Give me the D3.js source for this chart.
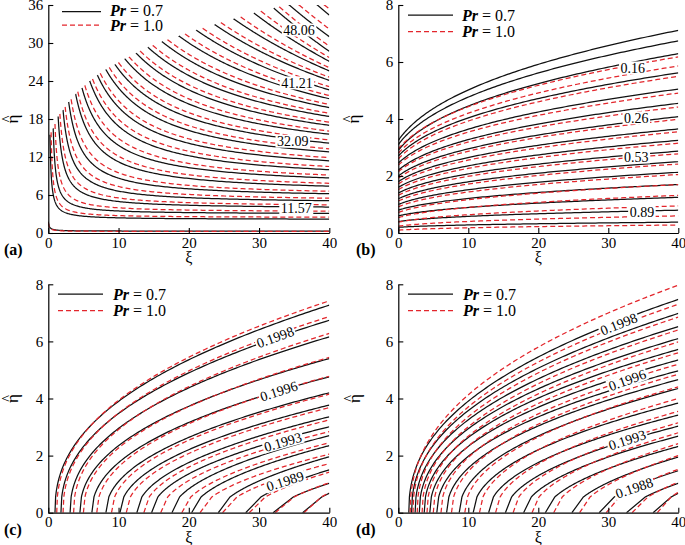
<!DOCTYPE html>
<html><head><meta charset="utf-8">
<script src="https://cdn.jsdelivr.net/npm/d3@7"></script>
<style>body{margin:0;background:#fff}svg{display:block}</style>
</head><body><svg id="c" width="685" height="545"></svg>
<script>
// ---------------- data ----------------
const xiTicks = [0, 10, 20, 30, 40];
const etaTicksA = [0, 6, 12, 18, 24, 30, 36];
const etaTicksBCD = [0, 2, 4, 6, 8];
const legendPr = ["0.7", "1.0"];

// (a) contour tips (upper-left end) and value at xi = 40
const aBlackTipXi  = [0, 0.24, 0.7, 1.4, 2.1, 2.9, 3.9, 4.8, 5.9, 7.0, 8.2, 9.5, 10.9, 12.5, 14.2, 16.2, 18.6, 21.1, 23.7, 26.4, 29.3, 32.1, 34.3, 38.3];
const aBlackTipEta = [1.8, 15.5, 16.5, 18.4, 19.4, 20.7, 21.9, 22.9, 24.0, 24.9, 25.8, 26.6, 27.5, 28.4, 29.3, 30.2, 31.1, 32.0, 32.9, 33.8, 34.7, 35.5, 36, 36];
const aBlackEnd    = [0.3, 2.2, 3.1, 4.1, 5.1, 6.2, 7.4, 8.7, 10.0, 11.4, 12.8, 14.2, 15.6, 17.0, 18.4, 19.8, 21.2, 22.6, 24.1, 25.6, 27.1, 28.7, 31.0, 34.4];
const aRedTipXi    = [0, 0.4, 0.95, 1.65, 2.4, 3.25, 4.2, 5.2, 6.3, 7.4, 8.7, 10.0, 11.5, 13.1, 14.9, 17.0, 19.5, 22.0, 24.6, 27.4, 30.3, 32.9, 35.7, 39.3];
const aRedTipEta   = [1.65, 15.9, 17.2, 18.8, 19.9, 21.1, 22.3, 23.3, 24.3, 25.2, 26.1, 26.9, 27.8, 28.7, 29.6, 30.5, 31.4, 32.3, 33.2, 34.1, 35.0, 35.7, 36, 36];
const aRedEnd      = [0.25, 2.5, 3.45, 4.45, 5.5, 6.6, 7.85, 9.15, 10.5, 11.9, 13.3, 14.7, 16.1, 17.5, 18.9, 20.3, 21.7, 23.1, 24.6, 26.1, 27.7, 29.5, 32.2, 35.4];
const aLabels = ["48.06", "41.21", "32.09", "11.57"];
const aLabelXi = [35.7, 35.4, 34.8, 35.3];
const aLabelEta = [32.05, 23.7, 14.5, 3.95];

// (b) value at xi = 0 and at xi = 40
const bBlackStart = [3.25, 3.1, 2.9, 2.7, 2.45, 2.2, 2.0, 1.8, 1.6, 1.4, 1.2, 1.0, 0.8, 0.6, 0.4, 0.2];
const bBlackEnd   = [7.11, 6.74, 6.29, 5.62, 5.05, 4.55, 4.08, 3.65, 3.25, 2.87, 2.5, 2.13, 1.7, 1.25, 0.8, 0.38];
const bRedStart   = [2.95, 2.8, 2.6, 2.38, 2.15, 1.92, 1.72, 1.52, 1.32, 1.12, 0.92, 0.72, 0.54, 0.38, 0.24, 0.1];
const bRedEnd     = [6.18, 5.86, 5.5, 4.91, 4.42, 3.99, 3.55, 3.15, 2.78, 2.42, 2.05, 1.7, 1.32, 0.95, 0.6, 0.28];
const bLabels = ["0.16", "0.26", "0.53", "0.89"];
const bLabelXi = [33.5, 34.0, 34.0, 34.8];
const bLabelEta = [5.79, 4.04, 2.67, 0.74];

// (c) xi where contour leaves the wall (eta = 0) and value at xi = 40
const cBlackXi0 = [0.95, 1.8, 3.1, 4.5, 6.2, 8.2, 10.2, 12.6, 14.7, 17.6, 20.4, 24.2, 28.1, 32.0, 36.2];
const cBlackEnd = [7.27, 6.74, 6.16, 5.4, 4.76, 4.2, 3.77, 3.36, 3.01, 2.7, 2.35, 1.96, 1.5, 1.03, 0.68];
const cRedXi0   = [1.2, 2.1, 3.6, 5.0, 6.9, 9.0, 11.1, 13.6, 16.0, 19.0, 21.6, 24.8, 28.6, 32.3, 36.4];
const cRedEnd   = [7.42, 6.87, 6.28, 5.44, 4.78, 4.15, 3.68, 3.25, 2.84, 2.45, 2.05, 1.72, 1.42, 1.05, 0.7];
const cLabels = ["0.1998", "0.1996", "0.1993", "0.1989"];
const cLabelXi = [32.3, 32.8, 33.4, 33.7];
const cLabelEta = [6.15, 4.26, 2.48, 1.11];

// (d)
const dBlackXi0 = [1.5, 1.9, 2.4, 3.0, 3.7, 4.5, 5.5, 6.9, 8.7, 10.7, 12.9, 15.3, 17.9, 21.0, 24.8, 28.7, 32.6, 36.4];
const dBlackEnd = [7.47, 6.98, 6.52, 6.1, 5.72, 5.35, 4.97, 4.66, 4.35, 3.84, 3.42, 3.03, 2.68, 2.32, 1.95, 1.47, 1.03, 0.68];
const dRedXi0   = [1.7, 2.1, 2.7, 3.4, 4.1, 5.0, 6.1, 7.6, 9.5, 11.6, 13.9, 16.4, 19.1, 22.2, 25.9, 29.7, 33.4, 37.0];
const dRedEnd   = [7.97, 7.3, 6.85, 6.4, 5.98, 5.6, 5.2, 4.85, 4.41, 4.0, 3.55, 3.15, 2.8, 2.42, 2.0, 1.52, 1.07, 0.72];
const dLabels = ["0.1998", "0.1996", "0.1993", "0.1988"];
const dLabelXi = [31.5, 32.7, 32.7, 33.7];
const dLabelEta = [6.61, 4.65, 2.55, 0.87];

// ---------------- layout / style ----------------
const FONT = '"Liberation Serif","Times New Roman",Times,serif';
const BLACK = "#111";
const RED = "#e3262c";
const svg = d3.select("#c");

const panels = [
  {id:"a", letter:"(a)", x0:48.3, x1:329.3, yt:5, yb:233, ymax:36, yticks:etaTicksA,
   etaX:13.5, lx0:62, lx1:101, tx:110, ly:[11.5,25], tb:[15.5,30.5], rot:[0,0,0,0]},
  {id:"b", letter:"(b)", x0:398.3, x1:678.3, yt:5, yb:233, ymax:8, yticks:etaTicksBCD,
   etaX:354, lx0:408, lx1:453, tx:462, ly:[15,31.5], tb:[20.5,37], rot:[0,0,0,0]},
  {id:"c", letter:"(c)", x0:48.3, x1:329.3, yt:284.3, yb:512.7, ymax:8, yticks:etaTicksBCD,
   etaX:13.5, lx0:58, lx1:103, tx:113, ly:[294,310.5], tb:[299.5,316], rot:[-20,-18,-16,-18]},
  {id:"d", letter:"(d)", x0:398.3, x1:678.3, yt:284.3, yb:512.7, ymax:8, yticks:etaTicksBCD,
   etaX:355, lx0:408, lx1:453, tx:463, ly:[294,310.5], tb:[299.5,316], rot:[-22,-20,-18,-19]}
];

// ---------------- curve builders ----------------
function curveA(xs, es, ee) {
  const d = 0.15 + 0.35 * Math.pow(xs, 1.5);
  const xv = xs - d;
  const A = (es - ee) / (1 / (xs - xv) - 1 / (40 - xv));
  const B = ee - A / (40 - xv);
  const pts = [];
  for (let i = 0; i <= 220; i++) {
    const t = i / 220;
    const x = xs + (40 - xs) * t * t * t;
    pts.push([x, B + A / (x - xv)]);
  }
  return pts;
}
function curveB(e0, e40) {
  const g = x => Math.pow(x + 2, 0.35) - Math.pow(2, 0.35);
  const G = g(40), pts = [];
  for (let i = 0; i <= 120; i++) {
    const x = 40 * Math.pow(i / 120, 1.5);
    pts.push([x, e0 + (e40 - e0) * g(x) / G]);
  }
  return pts;
}
function curveC(x0, e40) {
  const p = 0.42 + 0.006 * x0;
  const ek = Math.min(0.55, e40 * 0.9);
  const xk = x0 + (40 - x0) * Math.pow(ek / e40, 1 / p);
  const pts = [[x0, 0]];
  for (let i = 0; i <= 120; i++) {
    const x = xk + (40 - xk) * Math.pow(i / 120, 1.5);
    pts.push([x, e40 * Math.pow((x - x0) / (40 - x0), p)]);
  }
  return pts;
}

const series = {
  a: {black: aBlackTipXi.map((v,i)=>curveA(v, aBlackTipEta[i], aBlackEnd[i])),
      red:   aRedTipXi.map((v,i)=>curveA(v, aRedTipEta[i], aRedEnd[i])),
      labels: aLabels, lxi: aLabelXi, leta: aLabelEta},
  b: {black: bBlackStart.map((v,i)=>curveB(v, bBlackEnd[i])),
      red:   bRedStart.map((v,i)=>curveB(v, bRedEnd[i])),
      labels: bLabels, lxi: bLabelXi, leta: bLabelEta},
  c: {black: cBlackXi0.map((v,i)=>curveC(v, cBlackEnd[i])),
      red:   cRedXi0.map((v,i)=>curveC(v, cRedEnd[i])),
      labels: cLabels, lxi: cLabelXi, leta: cLabelEta},
  d: {black: dBlackXi0.map((v,i)=>curveC(v, dBlackEnd[i])),
      red:   dRedXi0.map((v,i)=>curveC(v, dRedEnd[i])),
      labels: dLabels, lxi: dLabelXi, leta: dLabelEta}
};

// ---------------- draw ----------------
panels.forEach(P => {
  const S = series[P.id];
  const x = d3.scaleLinear().domain([0, 40]).range([P.x0, P.x1]);
  const y = d3.scaleLinear().domain([0, P.ymax]).range([P.yb, P.yt]);
  const g = svg.append("g");

  g.append("clipPath").attr("id", "clip" + P.id).append("rect")
    .attr("x", P.x0).attr("y", P.yt).attr("width", P.x1 - P.x0).attr("height", P.yb - P.yt);

  const line = d3.line().x(d => x(d[0])).y(d => y(d[1]));
  const cg = g.append("g").attr("clip-path", "url(#clip" + P.id + ")");
  cg.selectAll(".k").data(S.black).join("path")
    .attr("d", line).attr("fill", "none").attr("stroke", BLACK).attr("stroke-width", 1.25);
  cg.selectAll(".r").data(S.red).join("path")
    .attr("d", line).attr("fill", "none").attr("stroke", RED).attr("stroke-width", 1.25)
    .attr("stroke-dasharray", "5,3");

  // contour labels
  S.labels.forEach((t, i) => {
    const lg = g.append("g")
      .attr("transform", `translate(${x(S.lxi[i])},${y(S.leta[i])}) rotate(${P.rot[i]})`);
    const txt = lg.append("text").text(t).attr("text-anchor", "middle").attr("dy", "0.35em")
      .attr("font-family", FONT).attr("font-size", 14).attr("fill", "#000");
    const w = txt.node().getComputedTextLength();
    lg.insert("rect", "text").attr("x", -w / 2 - 1.5).attr("y", -6.5)
      .attr("width", w + 3).attr("height", 13).attr("fill", "#fff");
  });

  // axes
  const ay = g.append("g").attr("transform", `translate(${P.x0},0)`)
    .call(d3.axisLeft(y).tickValues(P.yticks).tickSize(-5).tickSizeOuter(0).tickPadding(5));
  const ax = g.append("g").attr("transform", `translate(0,${P.yb})`)
    .call(d3.axisBottom(x).tickValues(xiTicks).tickSize(-5).tickSizeOuter(0).tickPadding(4));
  [ay, ax].forEach(a => {
    a.attr("font-family", FONT).attr("font-size", 15);
    a.select(".domain").attr("stroke", "#000").attr("stroke-width", 1.2);
    a.selectAll(".tick line").attr("stroke", "#000").attr("stroke-width", 1.1);
    a.selectAll(".tick text").attr("fill", "#000");
  });

  // axis titles
  g.append("text").attr("x", (P.x0 + P.x1) / 2).attr("y", P.yb + 30)
    .attr("text-anchor", "middle").attr("font-family", FONT).attr("font-size", 16).text("ξ");
  const ey = g.append("g").attr("transform", `translate(${P.etaX},${(P.yt + P.yb) / 2}) rotate(-90)`);
  ey.append("text").attr("text-anchor", "middle").attr("y", 4.5)
    .attr("font-family", FONT).attr("font-size", 17).text("η");
  ey.append("text").attr("text-anchor", "middle").attr("x", 0).attr("y", -1.5)
    .attr("font-family", FONT).attr("font-size", 14).text("^");

  // panel letter
  g.append("text").attr("x", P.id === "a" || P.id === "c" ? 4 : 356).attr("y", P.yb + 22)
    .attr("font-family", FONT).attr("font-size", 16).attr("font-weight", "bold").text(P.letter);

  // legend
  legendPr.forEach((pr, i) => {
    g.append("line").attr("x1", P.lx0).attr("x2", P.lx1).attr("y1", P.ly[i]).attr("y2", P.ly[i])
      .attr("stroke", i === 0 ? BLACK : RED).attr("stroke-width", 1.25)
      .attr("stroke-dasharray", i === 0 ? null : "5,3");
    const t = g.append("text").attr("x", P.tx).attr("y", P.tb[i])
      .attr("font-family", FONT).attr("font-size", 16);
    t.append("tspan").attr("font-style", "italic").attr("font-weight", "bold").text("Pr");
    t.append("tspan").text(" = " + pr);
  });
});
</script>
</body></html>
